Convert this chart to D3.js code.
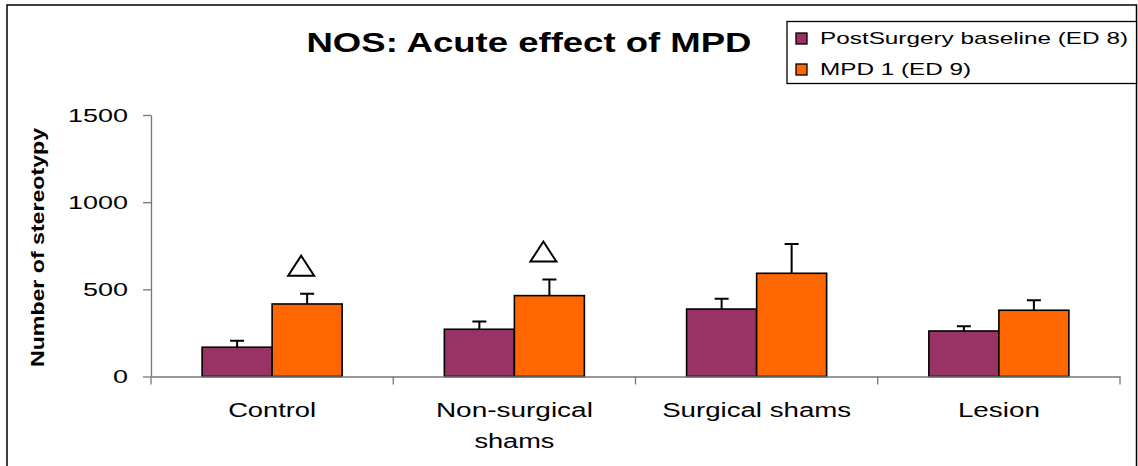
<!DOCTYPE html>
<html>
<head>
<meta charset="utf-8">
<script src="https://cdn.jsdelivr.net/npm/d3@7"></script>
<style>
  html, body { margin: 0; padding: 0; background: #fff; }
  svg { display: block; font-family: "Liberation Sans", Arial, sans-serif; }
</style>
</head>
<body>
<svg id="chart" width="1138" height="466"></svg>
<script>
// ---- data ----
const categories = ["Control", "Non-surgical shams", "Surgical shams", "Lesion"];
const categoryLines = [["Control"], ["Non-surgical", "shams"], ["Surgical shams"], ["Lesion"]];
const seriesNames = ["PostSurgery baseline (ED 8)", "MPD 1 (ED 9)"];
const baselineValues = [168, 271, 387, 261];
const baselineErrors = [37, 44, 59, 27];
const mpdValues = [416, 464, 592, 380];
const mpdErrors = [59, 92, 168, 57];
const mpdSignificant = [true, true, false, false];
const yTicks = [0, 500, 1000, 1500];
const title = "NOS: Acute effect of MPD";
const yTitle = "Number of stereotypy";
const colors = ["#993366", "#FF6600"];

const svg = d3.select("#chart");

// outer frame
svg.append("rect")
  .attr("x", 7).attr("y", 5).attr("width", 1129.5).attr("height", 470)
  .attr("fill", "none").attr("stroke", "#000").attr("stroke-width", 1.5);

// scales
const x0 = d3.scaleBand().domain(categories).range([151, 1120]).padding(0);
const x1 = d3.scaleBand().domain(seriesNames).range([0, x0.bandwidth()])
  .paddingInner(0).paddingOuter(0.73);
const y = d3.scaleLinear().domain([0, 1500]).range([376.5, 115]);

// data rows
const rows = categories.map((c, i) => ({
  cat: c,
  bars: [
    { s: seriesNames[0], v: baselineValues[i], e: baselineErrors[i], color: colors[0] },
    { s: seriesNames[1], v: mpdValues[i], e: mpdErrors[i], color: colors[1], sig: mpdSignificant[i] }
  ]
}));

// y axis
const yAxis = svg.append("g")
  .attr("transform", "translate(151,0)")
  .call(d3.axisLeft(y).tickValues(yTicks).tickFormat(d3.format("d"))
    .tickSize(8).tickSizeOuter(0).tickPadding(15));
yAxis.select(".domain").attr("stroke", "#777").attr("stroke-width", 1.3);
yAxis.selectAll(".tick line").attr("stroke", "#777").attr("stroke-width", 1.3);
yAxis.selectAll(".tick text")
  .attr("font-size", 19)
  .attr("fill", "#000")
  .attr("font-family", "Liberation Sans, Arial, sans-serif")
  .attr("textLength", d => String(d).length * 15)
  .attr("lengthAdjust", "spacingAndGlyphs");

// bars
const groups = svg.append("g").selectAll("g.grp")
  .data(rows).join("g")
  .attr("class", "grp")
  .attr("transform", d => `translate(${x0(d.cat)},0)`);

groups.selectAll("rect")
  .data(d => d.bars).join("rect")
  .attr("x", d => x1(d.s))
  .attr("y", d => y(d.v))
  .attr("width", x1.bandwidth())
  .attr("height", d => y(0) - y(d.v))
  .attr("fill", d => d.color)
  .attr("stroke", "#000")
  .attr("stroke-width", 1.6);

// error bars (upper only)
const capHalf = 7;
groups.selectAll("path.err")
  .data(d => d.bars).join("path")
  .attr("class", "err")
  .attr("d", d => {
    const cx = x1(d.s) + x1.bandwidth() / 2;
    const yt = y(d.v + d.e), yb = y(d.v);
    return `M${cx},${yb}V${yt}M${cx - capHalf},${yt}H${cx + capHalf}`;
  })
  .attr("fill", "none")
  .attr("stroke", "#000")
  .attr("stroke-width", 2);

// significance triangles
groups.selectAll("path.sig")
  .data(d => d.bars.filter(b => b.sig)).join("path")
  .attr("class", "sig")
  .attr("d", d => {
    const cx = x1(d.s) + x1.bandwidth() / 2 - 6;
    const yb = y(d.v + d.e) - 18;
    const w = 26, h = 20;
    return `M${cx - w / 2},${yb}L${cx},${yb - h}L${cx + w / 2},${yb}Z`;
  })
  .attr("fill", "#fff")
  .attr("stroke", "#000")
  .attr("stroke-width", 2);

// x axis
const xAxis = svg.append("g")
  .attr("transform", `translate(0,${y(0)})`)
  .call(d3.axisBottom(x0).tickSize(0).tickFormat(""));
xAxis.select(".domain").attr("stroke", "#777").attr("stroke-width", 1.3);
const bounds = categories.map(c => x0(c)).concat([x0(categories[categories.length - 1]) + x0.bandwidth()]);
xAxis.selectAll("line.bound")
  .data(bounds).join("line")
  .attr("class", "bound")
  .attr("x1", d => d).attr("x2", d => d)
  .attr("y1", 0).attr("y2", 8)
  .attr("stroke", "#777").attr("stroke-width", 1.3);

// category labels
const lineWidths = { "Control": 88, "Non-surgical": 157, "shams": 80, "Surgical shams": 189, "Lesion": 82 };
const labels = svg.append("g").selectAll("text")
  .data(categories.map((c, i) => ({ c, lines: categoryLines[i] }))).join("text")
  .attr("font-size", 20)
  .attr("fill", "#000")
  .attr("text-anchor", "middle");
labels.selectAll("tspan")
  .data(d => d.lines.map((l, j) => ({ l, j, c: d.c }))).join("tspan")
  .attr("x", d => x0(d.c) + x0.bandwidth() / 2)
  .attr("y", d => 417 + d.j * 31)
  .attr("textLength", d => lineWidths[d.l])
  .attr("lengthAdjust", "spacingAndGlyphs")
  .text(d => d.l);

// title
svg.append("text")
  .attr("x", 529).attr("y", 51.5)
  .attr("text-anchor", "middle")
  .attr("font-size", 28).attr("font-weight", "bold")
  .attr("textLength", 445).attr("lengthAdjust", "spacingAndGlyphs")
  .text(title);

// y title
svg.append("text")
  .attr("transform", "translate(44,247.5) rotate(-90)")
  .attr("text-anchor", "middle")
  .attr("font-size", 19).attr("font-weight", "bold")
  .attr("textLength", 239).attr("lengthAdjust", "spacingAndGlyphs")
  .text(yTitle);

// legend
const legend = svg.append("g");
legend.append("rect")
  .attr("x", 787).attr("y", 21.5).attr("width", 349.5).attr("height", 62)
  .attr("fill", "#fff").attr("stroke", "#000").attr("stroke-width", 1.3);
const legendWidths = [308, 151];
const li = legend.selectAll("g.li").data(seriesNames).join("g")
  .attr("class", "li")
  .attr("transform", (d, i) => `translate(796,${33 + i * 31})`);
li.append("rect")
  .attr("width", 11).attr("height", 11)
  .attr("fill", (d, i) => colors[i])
  .attr("stroke", "#000").attr("stroke-width", 1.3);
li.append("text")
  .attr("x", 24).attr("y", 11)
  .attr("font-size", 17)
  .attr("textLength", (d, i) => legendWidths[i])
  .attr("lengthAdjust", "spacingAndGlyphs")
  .text(d => d);
</script>
</body>
</html>
